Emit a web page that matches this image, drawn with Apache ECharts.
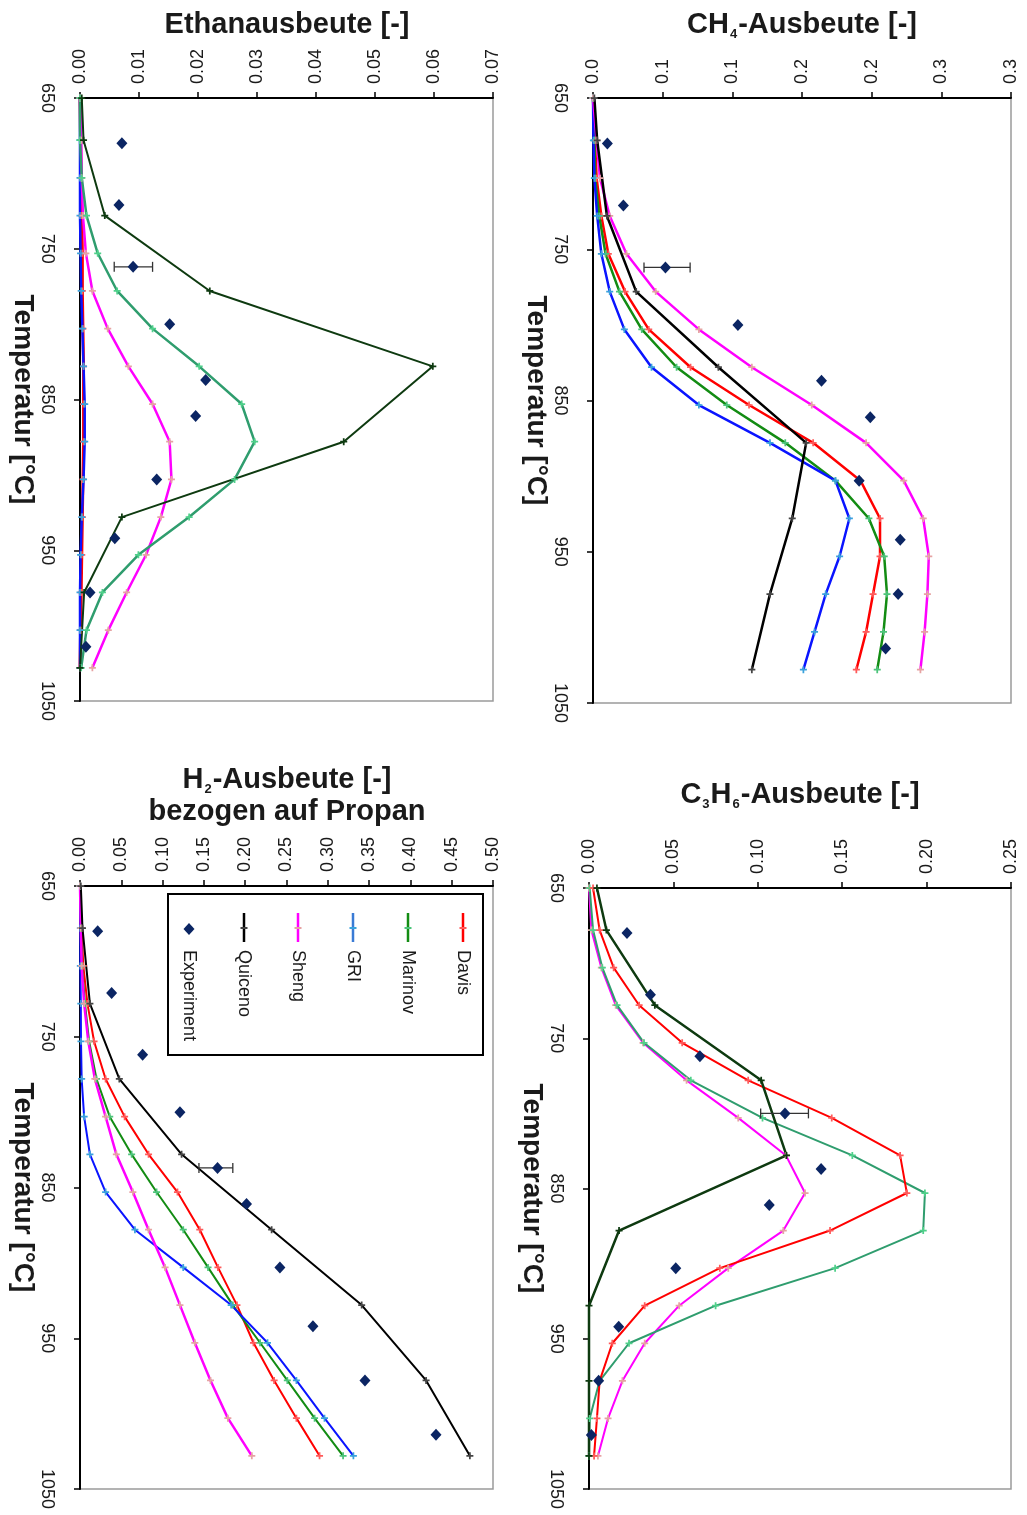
<!DOCTYPE html>
<html>
<head>
<meta charset="utf-8">
<script src="https://cdn.jsdelivr.net/npm/echarts@6/dist/echarts.min.js"></script>
<style>
  html, body { margin: 0; padding: 0; background: #fff; }
  #chart { width: 1027px; height: 1515px; }
</style>
</head>
<body>
<div id="chart"></div>
<script>
// temperatures [°C]
const modelTemps = [650, 678, 703, 728, 753, 778, 803, 828, 853, 878, 903, 928, 953, 978, 1003, 1028];
const quicenoTemps = [650, 678, 728, 778, 828, 878, 928, 978, 1028];
const expTemps = [680, 721, 762, 800, 837, 861, 903, 942, 978, 1014];

// CH4 yield
const ch4Davis   = [0, 0.0014, 0.0026, 0.006, 0.011, 0.023, 0.040, 0.070, 0.112, 0.158, 0.192, 0.206, 0.206, 0.201, 0.196, 0.189];
const ch4Marinov = [0, 0.001, 0.0015, 0.0045, 0.009, 0.019, 0.035, 0.060, 0.096, 0.138, 0.174, 0.198, 0.209, 0.211, 0.2085, 0.204];
const ch4Gri     = [0, 0.0003, 0.001, 0.003, 0.006, 0.012, 0.0225, 0.042, 0.076, 0.127, 0.174, 0.184, 0.177, 0.167, 0.159, 0.151];
const ch4Sheng   = [0, 0.0026, 0.005, 0.012, 0.024, 0.045, 0.076, 0.114, 0.157, 0.196, 0.223, 0.237, 0.241, 0.240, 0.238, 0.235];
const ch4Quiceno = [0.001, 0.003, 0.010, 0.031, 0.090, 0.153, 0.143, 0.127, 0.114];
const ch4Exp     = [0.0103, 0.0218, 0.052, 0.104, 0.164, 0.199, 0.191, 0.2205, 0.219, 0.210];
const ch4Err     = [[0.0366, 0.0697, 762]];
const ch4TickLabels = ['0.0', '0.1', '0.1', '0.2', '0.2', '0.3', '0.3'];

// Ethane yield
const ethDavis   = [0, 0.0001, 0.0002, 0.0003, 0.0004, 0.0004, 0.0005, 0.0006, 0.0006, 0.0006, 0.0005, 0.0004, 0.0003, 0.0002, 0.0001, 0];
const ethMarinov = [0, 0, 0.0003, 0.0011, 0.003, 0.0063, 0.0123, 0.0202, 0.0274, 0.0296, 0.0262, 0.0185, 0.0099, 0.0038, 0.0011, 0.0002];
const ethGri     = [0, 0, 0, 0, 0.0001, 0.0002, 0.0004, 0.0006, 0.0008, 0.0008, 0.0006, 0.0003, 0.0001, 0, 0, 0];
const ethSheng   = [0, 0.0002, 0.0003, 0.0005, 0.001, 0.0021, 0.0047, 0.0082, 0.0123, 0.0152, 0.0155, 0.0137, 0.0112, 0.0079, 0.0048, 0.0021];
const ethQuiceno = [0.0003, 0.0006, 0.0042, 0.0220, 0.0598, 0.0447, 0.0071, 0.0007, 0];
const ethExp     = [0.0071, 0.0066, 0.0090, 0.0152, 0.0213, 0.0196, 0.0130, 0.0059, 0.0017, 0.0010];
const ethErr     = [[0.0058, 0.0123, 762]];

// C3H6 yield
const c3Davis   = [0.0024, 0.0063, 0.0146, 0.0297, 0.0552, 0.0943, 0.1438, 0.1843, 0.1883, 0.1428, 0.0775, 0.033, 0.0138, 0.0063, 0.0047, 0.003];
const c3Marinov = [0.0004, 0.0024, 0.0079, 0.0166, 0.0326, 0.0603, 0.1028, 0.156, 0.199, 0.198, 0.1458, 0.075, 0.0237, 0.0063, 0.0004, 0];
const c3Sheng   = [0, 0.0014, 0.0073, 0.0158, 0.032, 0.0578, 0.0884, 0.1167, 0.128, 0.1151, 0.0825, 0.0534, 0.033, 0.0198, 0.0113, 0.0053];
const c3Quiceno = [0.0047, 0.0103, 0.039, 0.102, 0.117, 0.0178, 0, 0, 0];
const c3Exp     = [0.0225, 0.0364, 0.0657, 0.1161, 0.1375, 0.1068, 0.0514, 0.0176, 0.0057, 0.0014];
const c3Err     = [[0.1017, 0.130, 800]];

// H2 yield
const h2Davis   = [0, 0.002, 0.004, 0.009, 0.017, 0.031, 0.054, 0.083, 0.118, 0.145, 0.167, 0.190, 0.210, 0.235, 0.262, 0.290];
const h2Marinov = [0, 0.001, 0.0024, 0.006, 0.011, 0.020, 0.036, 0.0625, 0.0927, 0.125, 0.155, 0.185, 0.218, 0.251, 0.284, 0.3185];
const h2Gri     = [0, 0.0004, 0.0004, 0.001, 0.0012, 0.002, 0.005, 0.012, 0.031, 0.0665, 0.125, 0.183, 0.227, 0.262, 0.296, 0.331];
const h2Sheng   = [0, 0.001, 0.002, 0.005, 0.010, 0.018, 0.031, 0.044, 0.064, 0.083, 0.103, 0.121, 0.139, 0.158, 0.179, 0.208];
const h2Quiceno = [0.001, 0.003, 0.012, 0.0476, 0.123, 0.232, 0.341, 0.419, 0.472];
const h2Exp     = [0.0214, 0.0383, 0.0758, 0.121, 0.1665, 0.2016, 0.242, 0.282, 0.345, 0.431];
const h2Err     = [[0.144, 0.185, 837]];

const legendNames = ['Davis', 'Marinov', 'GRI', 'Sheng', 'Quiceno', 'Experiment'];

const FONT = "'Liberation Sans', Arial, sans-serif";
const TXT = '#1a1a1a';
const PLUS = 'path://M3,0h2v3h3v2h-3v3h-2v-3h-3v-2h3z';

const col = {
  davis: '#ff0000', davisMk: '#ff5a5a',
  marinov: '#138c13', marinovMk: '#4cc47a',
  teal: '#2f9d6e', tealMk: '#4fd08a',
  gri: '#0a14ff', griMk: '#3aa2dc',
  sheng: '#ff00ff', shengMk: '#e6a3a3',
  quiceno: '#000000', quicenoMk: '#444444',
  dark: '#0e3a10',
  exp: '#0b2563'
};

function lineSeries (name, gi, temps, vals, color, mk, width) {
  return {
    name: name,
    type: 'line',
    xAxisIndex: gi,
    yAxisIndex: gi,
    data: temps.map((t, i) => [vals[i], t]),
    symbol: PLUS,
    symbolSize: 7,
    showAllSymbol: true,
    clip: false,
    lineStyle: { color: color, width: width || 2.5 },
    itemStyle: { color: mk },
    emphasis: { disabled: true },
    z: 3
  }
}

function expSeries (gi, vals) {
  return {
    name: 'Experiment',
    type: 'scatter',
    xAxisIndex: gi,
    yAxisIndex: gi,
    data: expTemps.map((t, i) => [vals[i], t]),
    symbol: 'diamond',
    symbolSize: [11, 12],
    itemStyle: { color: col.exp, opacity: 1 },
    emphasis: { disabled: true },
    z: 5
  }
}

function errSeries (gi, err) {
  return {
    type: 'custom',
    xAxisIndex: gi,
    yAxisIndex: gi,
    data: err,
    encode: { x: [0, 1], y: 2 },
    z: 4,
    renderItem (params, api) {
      const p1 = api.coord([api.value(0), api.value(2)])
      const p2 = api.coord([api.value(1), api.value(2)])
      const st = { stroke: '#333', lineWidth: 1.3 }
      return {
        type: 'group',
        children: [
          { type: 'line', shape: { x1: p1[0], y1: p1[1], x2: p2[0], y2: p2[1] }, style: st },
          { type: 'line', shape: { x1: p1[0], y1: p1[1] - 5, x2: p1[0], y2: p1[1] + 5 }, style: st },
          { type: 'line', shape: { x1: p2[0], y1: p2[1] - 5, x2: p2[0], y2: p2[1] + 5 }, style: st }
        ]
      }
    }
  }
}

function xAxisFor (gi, max, interval, fmt) {
  return {
    gridIndex: gi,
    type: 'value',
    position: 'top',
    min: 0,
    max: max,
    interval: interval,
    axisLine: { show: true, onZero: false, lineStyle: { color: '#000', width: 2 } },
    axisTick: { show: true, length: 6, lineStyle: { color: '#000', width: 1.5 } },
    axisLabel: { rotate: -90, margin: 14, fontSize: 18, color: TXT, fontFamily: FONT, formatter: fmt },
    splitLine: { show: false }
  }
}

function yAxisFor (gi, gap) {
  return {
    gridIndex: gi,
    type: 'value',
    inverse: true,
    min: 650,
    max: 1050,
    interval: 100,
    axisLine: { show: true, onZero: false, lineStyle: { color: '#000', width: 2 } },
    axisTick: { show: true, length: 6, lineStyle: { color: '#000', width: 1.5 } },
    axisLabel: { rotate: -90, margin: 24, fontSize: 18, color: TXT, fontFamily: FONT, formatter: v => String(v) },
    splitLine: { show: false },
    name: 'Temperatur [°C]',
    nameLocation: 'middle',
    nameRotate: -90,
    nameGap: gap,
    nameTextStyle: { fontSize: 28, fontWeight: 'bold', color: TXT, fontFamily: FONT }
  }
}

const fix2 = v => v.toFixed(2)
const titleStyle = {
  fontSize: 29,
  fontWeight: 'bold',
  color: TXT,
  fontFamily: FONT,
  lineHeight: 32,
  rich: {
    s: { fontSize: 13, fontWeight: 'bold', color: TXT, fontFamily: FONT, verticalAlign: 'bottom', lineHeight: 32, padding: [0, 1, 0, 1] }
  }
}

function titleFor (text, cx, top) {
  return { text: text, left: cx, top: top, textAlign: 'center', padding: 0, textStyle: titleStyle }
}

// legend (drawn rotated, like the rest of the figure)
const legendX = [463, 408, 353, 298, 244, 189]
const legendColors = [col.davis, col.marinov, '#3a7bd5', col.sheng, col.quiceno, col.exp]
const legendMk = [col.davisMk, col.marinovMk, col.griMk, col.shengMk, col.quicenoMk, col.exp]
const legendEls = [{
  type: 'rect',
  shape: { x: 168, y: 894, width: 315, height: 161 },
  style: { fill: '#fff', stroke: '#000', lineWidth: 2 },
  z: 10
}]
legendNames.forEach((n, i) => {
  const x = legendX[i]
  if (n === 'Experiment') {
    legendEls.push({ type: 'polygon', shape: { points: [[x, 923], [x + 5.5, 929], [x, 935], [x - 5.5, 929]] }, style: { fill: col.exp }, z: 11 })
  } else {
    legendEls.push({ type: 'line', shape: { x1: x, y1: 913, x2: x, y2: 942 }, style: { stroke: legendColors[i], lineWidth: 2.5 }, z: 11 })
    legendEls.push({ type: 'line', shape: { x1: x - 3.5, y1: 928, x2: x + 3.5, y2: 928 }, style: { stroke: legendMk[i], lineWidth: 2 }, z: 12 })
  }
  legendEls.push({
    type: 'text',
    x: x,
    y: 950,
    rotation: -Math.PI / 2,
    style: { text: n, fontSize: 18, fontFamily: FONT, fill: TXT, align: 'left', verticalAlign: 'middle' },
    z: 12
  })
})

const option = {
  animation: false,
  backgroundColor: '#fff',
  title: [
    titleFor('Ethanausbeute [-]', 287, 9),
    titleFor('CH{s|4}-Ausbeute [-]', 802, 9),
    titleFor('H{s|2}-Ausbeute [-]\nbezogen auf Propan', 287, 764),
    titleFor('C{s|3}H{s|6}-Ausbeute [-]', 800, 779)
  ],
  grid: [
    { left: 80, top: 98, width: 413, height: 603, show: true, borderColor: '#9a9a9a', borderWidth: 1.5 },
    { left: 593, top: 98, width: 418, height: 605, show: true, borderColor: '#9a9a9a', borderWidth: 1.5 },
    { left: 80, top: 886, width: 413, height: 603, show: true, borderColor: '#9a9a9a', borderWidth: 1.5 },
    { left: 589, top: 888, width: 422, height: 601, show: true, borderColor: '#9a9a9a', borderWidth: 1.5 }
  ],
  xAxis: [
    xAxisFor(0, 0.07, 0.01, fix2),
    xAxisFor(1, 0.3, 0.05, v => ch4TickLabels[Math.round(v / 0.05)]),
    xAxisFor(2, 0.5, 0.05, fix2),
    xAxisFor(3, 0.25, 0.05, fix2)
  ],
  yAxis: [yAxisFor(0, 38), yAxisFor(1, 36), yAxisFor(2, 38), yAxisFor(3, 36)],
  graphic: legendEls,
  series: [
    // Ethan
    lineSeries('Davis', 0, modelTemps, ethDavis, col.davis, col.davisMk, 3),
    lineSeries('GRI', 0, modelTemps, ethGri, col.gri, col.griMk),
    lineSeries('Sheng', 0, modelTemps, ethSheng, col.sheng, col.shengMk),
    lineSeries('Marinov', 0, modelTemps, ethMarinov, col.teal, col.tealMk),
    lineSeries('Quiceno', 0, quicenoTemps, ethQuiceno, col.dark, col.dark, 2),
    errSeries(0, ethErr),
    expSeries(0, ethExp),
    // CH4
    lineSeries('Davis', 1, modelTemps, ch4Davis, col.davis, col.davisMk),
    lineSeries('Marinov', 1, modelTemps, ch4Marinov, col.marinov, col.marinovMk),
    lineSeries('GRI', 1, modelTemps, ch4Gri, col.gri, col.griMk),
    lineSeries('Sheng', 1, modelTemps, ch4Sheng, col.sheng, col.shengMk),
    lineSeries('Quiceno', 1, quicenoTemps, ch4Quiceno, col.quiceno, col.quicenoMk),
    errSeries(1, ch4Err),
    expSeries(1, ch4Exp),
    // H2
    lineSeries('Davis', 2, modelTemps, h2Davis, col.davis, col.davisMk, 2),
    lineSeries('Marinov', 2, modelTemps, h2Marinov, col.marinov, col.marinovMk, 2),
    lineSeries('GRI', 2, modelTemps, h2Gri, col.gri, col.griMk, 2),
    lineSeries('Sheng', 2, modelTemps, h2Sheng, col.sheng, col.shengMk, 2.5),
    lineSeries('Quiceno', 2, quicenoTemps, h2Quiceno, col.quiceno, col.quicenoMk, 2),
    errSeries(2, h2Err),
    expSeries(2, h2Exp),
    // C3H6
    lineSeries('Sheng', 3, modelTemps, c3Sheng, col.sheng, col.shengMk, 2),
    lineSeries('Marinov', 3, modelTemps, c3Marinov, col.teal, col.tealMk, 2),
    lineSeries('Davis', 3, modelTemps, c3Davis, col.davis, col.davisMk, 2),
    lineSeries('Quiceno', 3, quicenoTemps, c3Quiceno, col.dark, col.dark, 2.5),
    errSeries(3, c3Err),
    expSeries(3, c3Exp)
  ]
}

const myChart = echarts.init(document.getElementById('chart'))
myChart.setOption(option)
</script>
</body>
</html>
